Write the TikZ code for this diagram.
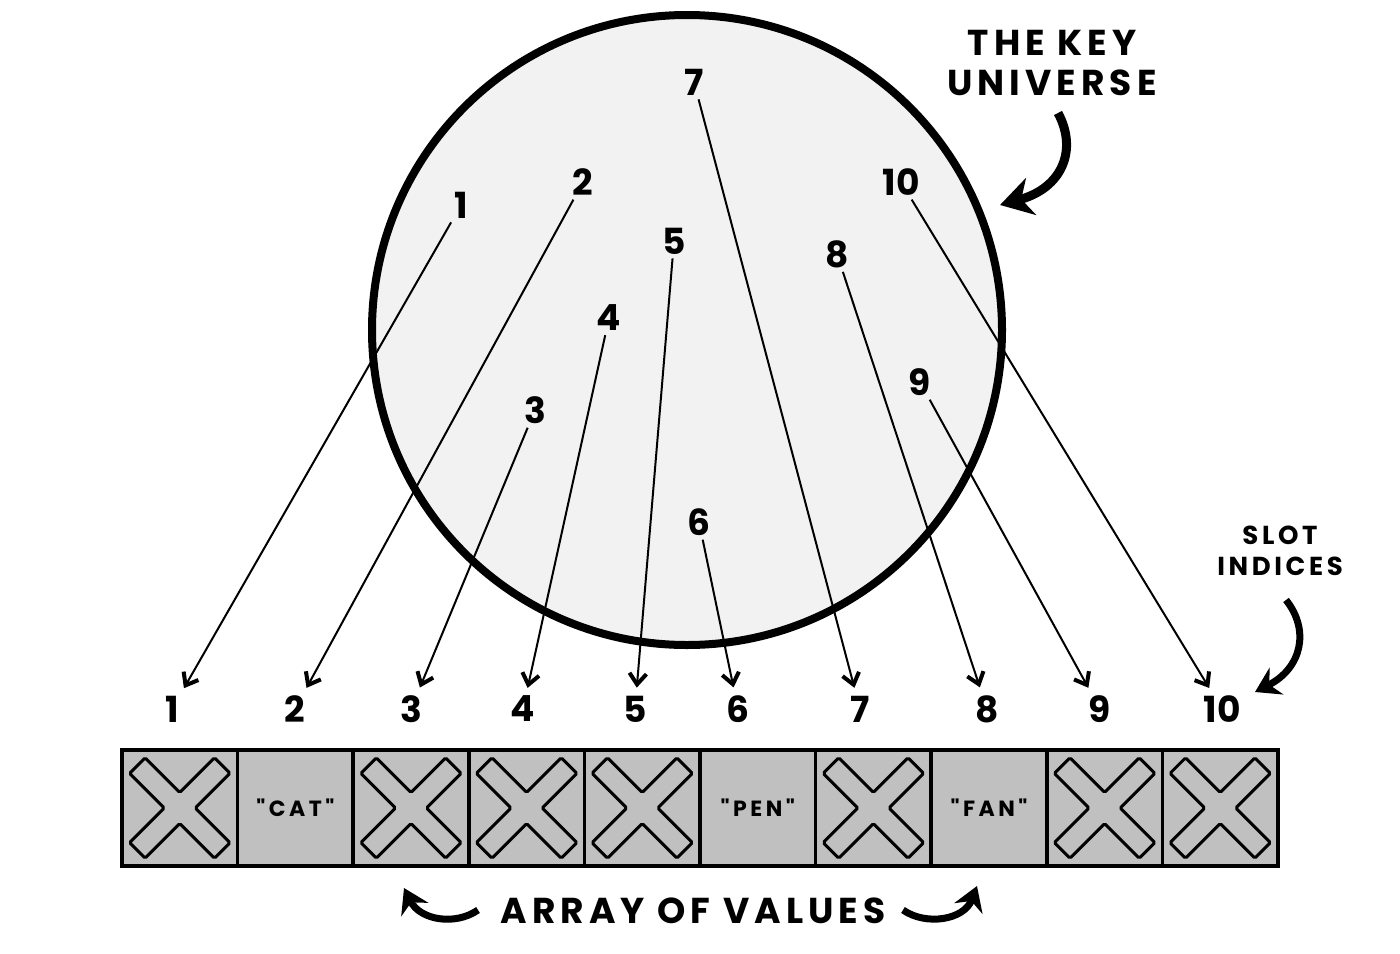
\documentclass[tikz,border=0pt]{standalone}
\usepackage{fontspec}
\setmainfont{Poppins}
\newfontfamily\widefont{Poppins}[LetterSpace=14]
\newfontfamily\cellfont{Poppins}[LetterSpace=16]
\usetikzlibrary{arrows.meta}
\definecolor{disc}{HTML}{F2F2F2}
\definecolor{slot}{HTML}{C0C0C0}
\begin{document}
\begin{tikzpicture}[x=1pt,y=-1pt,
  num/.style={font=\fontsize{36}{36}\selectfont\bfseries, inner sep=4pt},
  ptr/.style={line width=2pt, shorten >=4pt,
    -{Straight Barb[length=11pt,width=17pt,line width=4pt 0]}},
  cell/.style={draw, line width=3.5pt, fill=slot, minimum width=115.6pt,
    minimum height=116pt, inner sep=0pt, outer sep=0pt},
  word/.style={font=\cellfont\fontsize{22}{22}\selectfont\bfseries},
  title/.style={font=\widefont\fontsize{36}{40}\selectfont\bfseries, align=center},
  small title/.style={font=\widefont\fontsize{26}{31}\selectfont\bfseries, align=center},
  curly/.style={line width=9pt, -{Stealth[length=32pt,width=38pt,inset=10pt]}},
  curly small/.style={line width=7pt, -{Stealth[length=24pt,width=30pt,inset=8pt]}},
  pics/cross/.style={code={
    \draw[line width=3pt, fill=slot, rounded corners=1.5pt, rotate=45]
      (11,60) -- (11,11) -- (60,11) -- (60,-11) -- (11,-11) -- (11,-60)
      -- (-11,-60) -- (-11,-11) -- (-60,-11) -- (-60,11) -- (-11,11)
      -- (-11,60) -- cycle;}}
]
\useasboundingbox (0,0) rectangle (1400,953);

% the key universe
\draw[line width=8pt, fill=disc] (687,330) circle [radius=315pt];

% keys inside the universe
\node[num] (t1)  at (461,205) {1};
\node[num] (t2)  at (583,182) {2};
\node[num] (t3)  at (535,410) {3};
\node[num] (t4)  at (609,318) {4};
\node[num] (t5)  at (674,241) {5};
\node[num] (t6)  at (699,522) {6};
\node[num] (t7)  at (694,82)  {7};
\node[num] (t8)  at (837,254) {8};
\node[num] (t9)  at (920,382) {9};
\node[num] (t10) at (901,182) {10};

% slot indices
\node[num] (b1)  at (172,709)  {1};
\node[num] (b2)  at (295,709)  {2};
\node[num] (b3)  at (411,709)  {3};
\node[num] (b4)  at (523,709)  {4};
\node[num] (b5)  at (635,709)  {5};
\node[num] (b6)  at (738,709)  {6};
\node[num] (b7)  at (860,709)  {7};
\node[num] (b8)  at (987,709)  {8};
\node[num] (b9)  at (1100,709) {9};
\node[num] (b10) at (1222,709) {10};

% direct addressing: key k goes to slot k
\foreach \k in {1,...,10}
  \draw[ptr] (t\k) -- (b\k);

% array of values
\foreach \k in {1,...,10}
  \node[cell] (c\k) at ({122+57.8+115.6*(\k-1)},808) {};
\foreach \k in {1,3,4,5,7,9,10}
  \pic at (c\k) {cross};
\node[word] at (c2) {"CAT"};
\node[word] at (c6) {"PEN"};
\node[word] at (c8) {"FAN"};

% captions
\node[title] (universe) at (1052,63) {THE KEY\\UNIVERSE};
\node[small title] (slots) at (1280,551) {SLOT\\INDICES};
\node[title] (values) at (693,911) {ARRAY OF VALUES};

% curved pointers
\coordinate (u0) at (1058,113);
\coordinate (u1) at (1000,205);
\draw[curly] (u0) .. controls (1078,150) and (1062,188) .. (u1);
\coordinate (s0) at (1286,600);
\coordinate (s1) at (1255,692);
\draw[curly small] (s0) .. controls (1310,630) and (1302,668) .. (s1);
\coordinate (l0) at (478,910);
\coordinate (l1) at (404,888);
\draw[curly small] (l0) .. controls (455,926) and (420,920) .. (l1);
\coordinate (r0) at (903,910);
\coordinate (r1) at (977,886);
\draw[curly small] (r0) .. controls (926,926) and (964,920) .. (r1);
\end{tikzpicture}
\end{document}
